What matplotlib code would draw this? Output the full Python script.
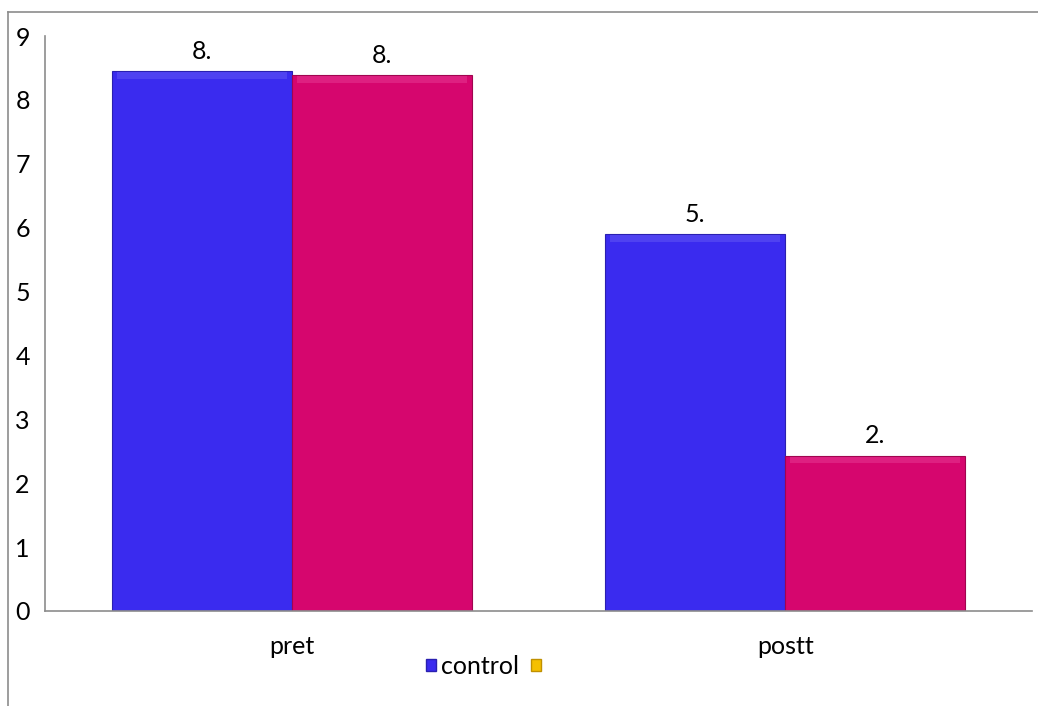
import matplotlib.pyplot as plt
from matplotlib.patches import Patch, Rectangle
from matplotlib.lines import Line2D
import numpy as np

plt.rcParams['font.family'] = ['Lato', 'DejaVu Sans']

categories = ['pret', 'postt']
control = [8.45, 5.9]
experiment = [8.39, 2.43]
value_labels_control = ['8.', '5.']
value_labels_experiment = ['8.', '2.']

blue = '#3a2bef'
pink = '#d6066e'
yellow = '#f5c000'

fig = plt.figure(figsize=(10.38, 7.06), dpi=100)
ax = fig.add_axes([0.0434, 0.1346, 0.9508, 0.8144])

x = np.arange(len(categories))
w = 0.365
b1 = ax.bar(x - w / 2, control, w, color=blue, edgecolor='#2a20b0', linewidth=0.8)
b2 = ax.bar(x + w / 2, experiment, w, color=pink, edgecolor='#a0054f', linewidth=0.8)

# soft bevel along the top of each bar
for bars, light in ((b1, '#6a60f5'), (b2, '#e8409a')):
    for r in bars:
        ax.add_patch(Rectangle((r.get_x() + 0.01, r.get_height() - 0.12), r.get_width() - 0.02, 0.1,
                               color=light, alpha=0.45, linewidth=0))

for bars, labs in ((b1, value_labels_control), (b2, value_labels_experiment)):
    for r, t in zip(bars, labs):
        ax.text(r.get_x() + r.get_width() / 2, r.get_height() + 0.13, t,
                ha='center', va='bottom', fontsize=18)

ax.set_xlim(-0.5, 1.5)
ax.set_ylim(0, 9)
ax.set_yticks(range(10))
ax.set_xticks(x)
ax.set_xticklabels(categories)
ax.tick_params(axis='both', length=0, labelsize=18)
ax.tick_params(axis='x', pad=17)
ax.tick_params(axis='y', pad=11)
for s in ('top', 'right'):
    ax.spines[s].set_visible(False)
for s in ('left', 'bottom'):
    ax.spines[s].set_color('#8c8c8c')
    ax.spines[s].set_linewidth(1.2)

handles = [Patch(facecolor=blue, edgecolor='#2a20b0'), Patch(facecolor=yellow, edgecolor='#c09000')]
fig.legend(handles, ['control', ''], loc='center', bbox_to_anchor=(0.468, 0.056),
           ncol=2, frameon=False, fontsize=18, handlelength=0.4, handleheight=0.4,
           handletextpad=0.2, columnspacing=0.5)

# outer chart frame
fig.add_artist(Line2D([0.0077, 0.0077], [0, 0.983], color='#8c8c8c', lw=1.2))
fig.add_artist(Line2D([0.0077, 1], [0.983, 0.983], color='#8c8c8c', lw=1.2))

fig.savefig('out.png', dpi=100)
